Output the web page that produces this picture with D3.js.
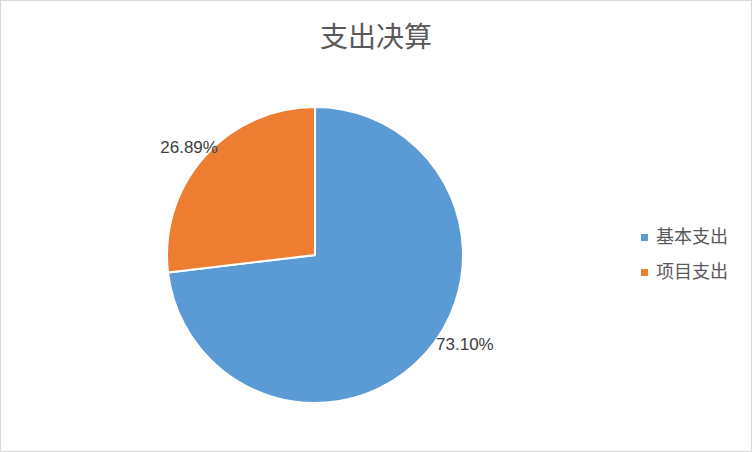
<!DOCTYPE html>
<html>
<head>
<meta charset="utf-8">
<script src="https://cdn.jsdelivr.net/npm/d3@7"></script>
<style>
  html, body { margin: 0; padding: 0; background: #fff; }
  svg { display: block; }
</style>
</head>
<body>
<div id="chart"></div>
<script>
// chart data
var categories = ["基本支出", "项目支出"];
var values = [73.10, 26.89];
var labels = ["73.10%", "26.89%"];
var colors = ["#5B9BD5", "#ED7D31"];

var width = 752, height = 452;
var cx = 315, cy = 255, radius = 148;

// small nudges for the data labels (Excel moved them a bit)
var labelNudge = [[25, -16], [-1, 9]];

var svg = d3.select("#chart")
    .append("svg")
    .attr("width", width)
    .attr("height", height);

// outer border
svg.append("rect")
    .attr("x", 0.5)
    .attr("y", 0.5)
    .attr("width", width - 1)
    .attr("height", height - 1)
    .attr("fill", "#fff")
    .attr("stroke", "#d9d9d9");

// title
svg.append("text")
    .attr("x", 376)
    .attr("y", 47)
    .attr("text-anchor", "middle")
    .attr("font-family", "'Noto Sans CJK SC', sans-serif")
    .attr("font-size", "28px")
    .attr("fill", "#595959")
    .text("支出决算");

var pie = d3.pie().sort(null).value(function (d) { return d; });
var arcs = pie(values);

var arc = d3.arc().innerRadius(0).outerRadius(radius);
var labelArc = d3.arc().innerRadius(167).outerRadius(167);

var g = svg.append("g").attr("transform", "translate(" + cx + "," + cy + ")");

g.selectAll("path.slice")
    .data(arcs)
    .enter().append("path")
    .attr("class", "slice")
    .attr("d", arc)
    .attr("fill", function (d, i) { return colors[i]; })
    .attr("stroke", "#fff")
    .attr("stroke-width", 2);

g.selectAll("text.label")
    .data(arcs)
    .enter().append("text")
    .attr("class", "label")
    .attr("transform", function (d, i) {
        var c = labelArc.centroid(d);
        return "translate(" + (c[0] + labelNudge[i][0]) + "," + (c[1] + labelNudge[i][1]) + ")";
    })
    .attr("text-anchor", "middle")
    .attr("font-family", "'Liberation Sans', Arial, sans-serif")
    .attr("font-size", "17px")
    .attr("fill", "#404040")
    .text(function (d, i) { return labels[i]; });

// legend
var legend = svg.selectAll("g.legend")
    .data(categories)
    .enter().append("g")
    .attr("class", "legend")
    .attr("transform", function (d, i) { return "translate(641," + (234 + i * 35) + ")"; });

legend.append("rect")
    .attr("width", 7)
    .attr("height", 7)
    .attr("fill", function (d, i) { return colors[i]; });

legend.append("text")
    .attr("x", 15)
    .attr("y", 9)
    .attr("font-family", "'Noto Sans CJK SC', sans-serif")
    .attr("font-size", "18px")
    .attr("fill", "#595959")
    .text(function (d) { return d; });
</script>
</body>
</html>
